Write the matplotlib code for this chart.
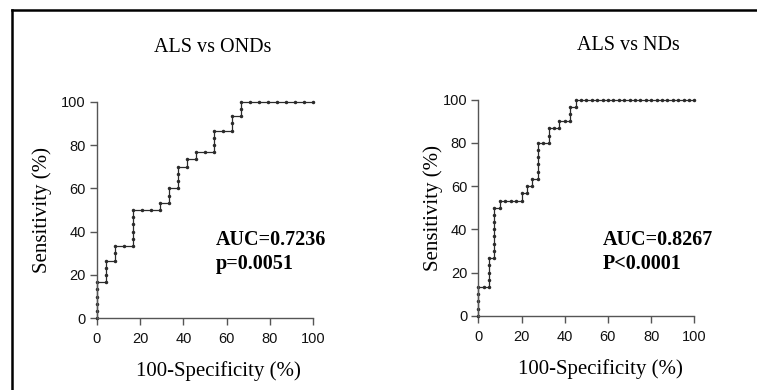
import matplotlib
matplotlib.use("Agg")
import matplotlib.pyplot as plt
from matplotlib.lines import Line2D

# ---- data (ROC points, in %) ----
# ALS vs ONDs : 30 ALS, 24 controls
onds_fpr = [0, 0, 0, 0, 0, 0,
            4.17, 4.17, 4.17, 4.17,
            8.33, 8.33, 8.33,
            12.5,
            16.67, 16.67, 16.67, 16.67, 16.67, 16.67,
            20.83, 25.0, 29.17, 29.17,
            33.33, 33.33, 33.33,
            37.5, 37.5, 37.5, 37.5,
            41.67, 41.67,
            45.83, 45.83,
            50.0,
            54.17, 54.17, 54.17, 54.17,
            58.33,
            62.5, 62.5, 62.5,
            66.67, 66.67, 66.67,
            70.83, 75.0, 79.17, 83.33, 87.5, 91.67, 95.83, 100.0]
onds_tpr = [0, 3.33, 6.67, 10.0, 13.33, 16.67,
            16.67, 20.0, 23.33, 26.67,
            26.67, 30.0, 33.33,
            33.33,
            33.33, 36.67, 40.0, 43.33, 46.67, 50.0,
            50.0, 50.0, 50.0, 53.33,
            53.33, 56.67, 60.0,
            60.0, 63.33, 66.67, 70.0,
            70.0, 73.33,
            73.33, 76.67,
            76.67,
            76.67, 80.0, 83.33, 86.67,
            86.67,
            86.67, 90.0, 93.33,
            93.33, 96.67, 100.0,
            100, 100, 100, 100, 100, 100, 100, 100]

# ALS vs NDs : 30 ALS, 40 controls
nds_fpr = [0, 0, 0, 0, 0,
           2.5, 5.0, 5.0, 5.0, 5.0, 5.0,
           7.5, 7.5, 7.5, 7.5, 7.5, 7.5, 7.5, 7.5,
           10.0, 10.0,
           12.5, 15.0, 17.5, 20.0, 20.0,
           22.5, 22.5,
           25.0, 25.0,
           27.5, 27.5, 27.5, 27.5, 27.5, 27.5,
           30.0, 32.5, 32.5, 32.5,
           35.0, 37.5, 37.5,
           40.0, 42.5, 42.5, 42.5,
           45.0, 45.0,
           47.5, 50.0, 52.5, 55.0, 57.5, 60.0, 62.5, 65.0, 67.5, 70.0,
           72.5, 75.0, 77.5, 80.0, 82.5, 85.0, 87.5, 90.0, 92.5, 95.0,
           97.5, 100.0]
nds_tpr = [0, 3.33, 6.67, 10.0, 13.33,
           13.33, 13.33, 16.67, 20.0, 23.33, 26.67,
           26.67, 30.0, 33.33, 36.67, 40.0, 43.33, 46.67, 50.0,
           50.0, 53.33,
           53.33, 53.33, 53.33, 53.33, 56.67,
           56.67, 60.0,
           60.0, 63.33,
           63.33, 66.67, 70.0, 73.33, 76.67, 80.0,
           80.0, 80.0, 83.33, 86.67,
           86.67, 86.67, 90.0,
           90.0, 90.0, 93.33, 96.67,
           96.67, 100.0,
           100, 100, 100, 100, 100, 100, 100, 100, 100, 100,
           100, 100, 100, 100, 100, 100, 100, 100, 100, 100,
           100, 100]

titles = ["ALS vs ONDs", "ALS vs NDs"]
auc_lines = [["AUC=0.7236", "p=0.0051"], ["AUC=0.8267", "P<0.0001"]]
ticks = [0, 20, 40, 60, 80, 100]
xlabel = "100-Specificity (%)"
ylabel = "Sensitivity (%)"

W, H = 757, 390
fig = plt.figure(figsize=(W / 100, H / 100), dpi=100)

serif = ["Liberation Serif", "DejaVu Serif"]
sans = ["Liberation Sans", "DejaVu Sans"]
col = "#2b2b2b"

def fx(px):
    return px / W

def fy(py):
    return 1 - py / H

axes_px = [(96.7, 101.7, 313.3, 318.3), (478.3, 99.7, 694.3, 315.7)]
data = [(onds_fpr, onds_tpr), (nds_fpr, nds_tpr)]
title_pos = [(213, 52), (628, 50)]
xlab_pos = [(218, 371), (600, 369)]
ylab_pos = [(42, 210), (433, 208)]
auc_pos = [(216, 245), (603, 245)]

for i in range(2):
    x0, y0, x1, y1 = axes_px[i]
    ax = fig.add_axes([fx(x0), fy(y1), (x1 - x0) / W, (y1 - y0) / H])
    fpr, tpr = data[i]
    ax.plot(fpr, tpr, color=col, lw=0.9, marker="o", ms=1.5, mfc=col,
            mec=col, clip_on=False)
    ax.set_xlim(0, 100)
    ax.set_ylim(0, 100)
    ax.set_xticks(ticks)
    ax.set_yticks(ticks)
    for s in ["top", "right"]:
        ax.spines[s].set_visible(False)
    for s in ["left", "bottom"]:
        ax.spines[s].set_color("#555555")
        ax.spines[s].set_linewidth(1.0)
    ax.tick_params(direction="out", length=5, width=1.0, color="#555555",
                   labelsize=10.5, labelcolor="#111111")
    ax.tick_params(axis="x", pad=5)
    ax.tick_params(axis="y", pad=3)
    for lab in ax.get_xticklabels() + ax.get_yticklabels():
        lab.set_family(sans)
    fig.text(fx(title_pos[i][0]), fy(title_pos[i][1]), titles[i],
             ha="center", va="baseline", fontsize=14.5, family=serif)
    fig.text(fx(xlab_pos[i][0]), fy(xlab_pos[i][1]), xlabel,
             ha="center", va="center", fontsize=15, family=serif)
    fig.text(fx(ylab_pos[i][0]), fy(ylab_pos[i][1]), ylabel,
             ha="center", va="center", rotation=90, fontsize=15, family=serif)
    t1, t2 = auc_lines[i]
    fig.text(fx(auc_pos[i][0]), fy(auc_pos[i][1]), t1, ha="left",
             va="baseline", fontsize=14.5, fontweight="bold", family=serif)
    fig.text(fx(auc_pos[i][0]), fy(auc_pos[i][1] + 24), t2, ha="left",
             va="baseline", fontsize=14.5, fontweight="bold", family=serif)

# outer frame (top and left edges)
fig.add_artist(Line2D([fx(12), 1.0], [fy(10), fy(10)], transform=fig.transFigure,
                      color="black", lw=1.8))
fig.add_artist(Line2D([fx(12), fx(12)], [fy(10), 0.0], transform=fig.transFigure,
                      color="black", lw=1.8))

fig.savefig("out.png", dpi=100)
